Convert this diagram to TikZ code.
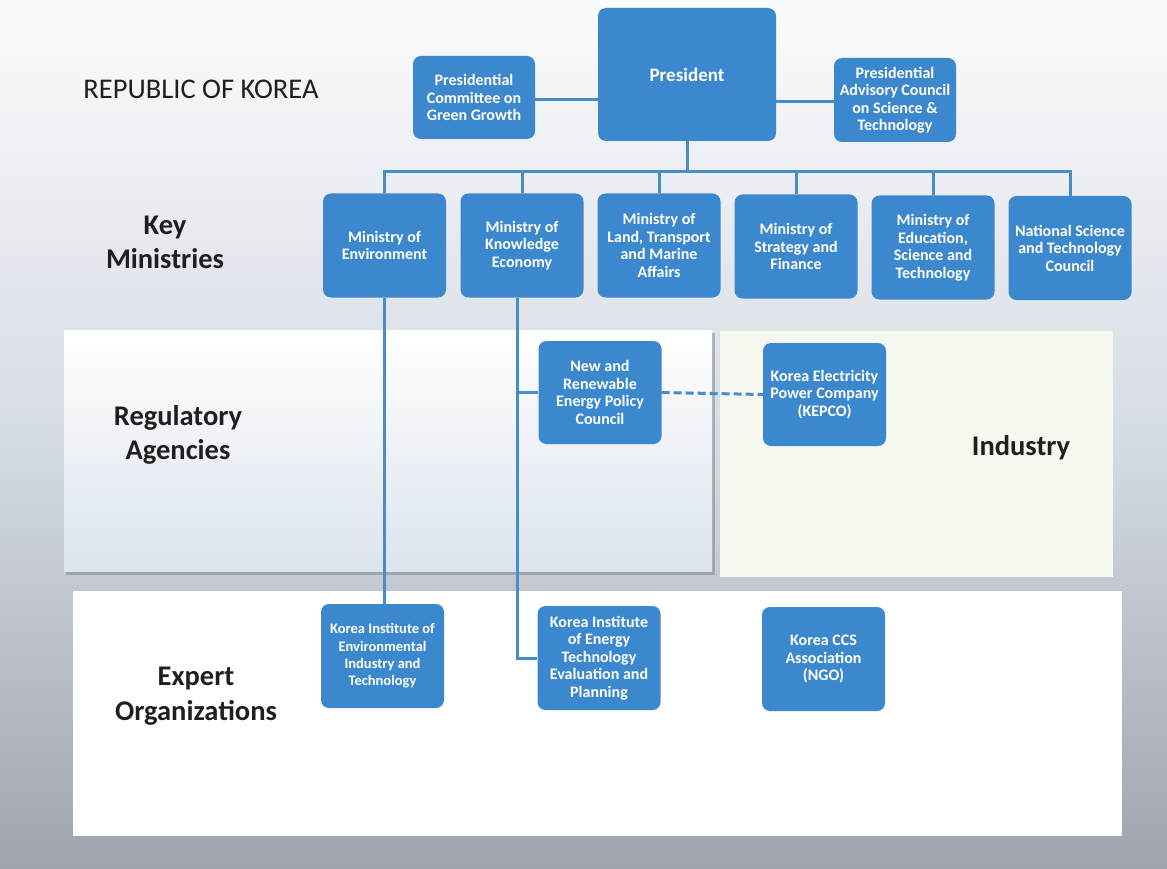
\documentclass[tikz,border=0pt]{standalone}
\usepackage{fontspec}
\setmainfont{Carlito}
\definecolor{boxblue}{RGB}{60,136,206}
\definecolor{lineblue}{RGB}{72,140,202}
\definecolor{bgtop}{RGB}{250,251,253}
\definecolor{bgmid}{RGB}{214,220,228}
\definecolor{bgbot}{RGB}{160,164,172}
\definecolor{regbot}{RGB}{220,228,238}
\definecolor{indfill}{RGB}{244,248,238}
\definecolor{shadowgray}{RGB}{130,134,140}
\begin{document}
\begin{tikzpicture}[x=1pt,y=-1pt,
  box/.style={fill=boxblue, rounded corners=8pt, text=white, align=center,
    inner sep=0pt, minimum width=123pt, minimum height=104pt,
    font=\fontsize{16}{17.5}\selectfont\bfseries},
  smallbox/.style={box, font=\fontsize{14.5}{17.3}\selectfont\bfseries},
  conn/.style={draw=lineblue, line width=3pt},
  dconn/.style={draw=lineblue, line width=3pt, dash pattern=on 8pt off 4pt},
  label/.style={align=center, inner sep=0pt, text=black!88,
    font=\fontsize{28.5}{34.5}\selectfont\bfseries}]
\useasboundingbox (0,0) rectangle (1167,869);
% background
\shade[top color=bgtop, bottom color=bgbot, middle color=bgmid] (0,0) rectangle (1167,869);
% panels
\fill[shadowgray, opacity=0.55] (66,333) rectangle (715,575);
\shade[top color=white, bottom color=regbot] (64,330) rectangle (712,571);
\fill[indfill] (720,331) rectangle (1113,577);
\fill[white] (73,591) rectangle (1122,836);
% labels
\node[label, font=\fontsize{28.5}{34.5}\selectfont, anchor=base] (rok) at (201,99) {REPUBLIC OF KOREA};
\node[label] (lkey) at (165,242.5) {Key\\Ministries};
\node[label] (lreg) at (178,435) {Regulatory\\Agencies};
\node[label, anchor=base] (lind) at (1021,455) {Industry};
\node[label] (lexp) at (196,696) {Expert\\Organizations};
% boxes
\node[box, minimum width=178pt, minimum height=133pt, font=\fontsize{19}{21}\selectfont\bfseries] (pres) at (687,74.5) {President};
\node[box, minimum width=122pt, minimum height=83pt] (pcgg) at (474,97.5) {Presidential\\Committee on\\Green Growth};
\node[box, minimum width=122pt, minimum height=84pt] (pacst) at (895,100) {Presidential\\Advisory Council\\on Science \&\\Technology};
\node[box] (m1) at (384.5,245.5) {Ministry of\\Environment};
\node[box] (m2) at (522,245.5) {Ministry of\\Knowledge\\Economy};
\node[box] (m3) at (659,245.5) {Ministry of\\Land, Transport\\and Marine\\Affairs};
\node[box] (m4) at (796,246.5) {Ministry of\\Strategy and\\Finance};
\node[box] (m5) at (933,247.5) {Ministry of\\Education,\\Science and\\Technology};
\node[box] (m6) at (1070,248) {National Science\\and Technology\\Council};
\node[box, minimum height=103pt] (nrepc) at (600,392.5) {New and\\Renewable\\Energy Policy\\Council};
\node[box, minimum height=103pt] (kepco) at (824.5,394.5) {Korea Electricity\\Power Company\\(KEPCO)};
\node[smallbox] (kieit) at (382.5,656) {Korea Institute of\\Environmental\\Industry and\\Technology};
\node[box] (kietep) at (599,658) {Korea Institute\\of Energy\\Technology\\Evaluation and\\Planning};
\node[box] (kccs) at (823.5,659) {Korea CCS\\Association\\(NGO)};
% connectors
\coordinate (bus) at (687,172);
\coordinate (spine) at (517,298);
\draw[conn] (pcgg.east |- 0,100) -- (pres.west |- 0,100);
\draw[conn] (pacst.west |- 0,102) -- (pres.east |- 0,102);
\draw[conn] (pres.south) -- (bus);
\draw[conn, line cap=rect] (m1.north |- bus) -- (m6.north |- bus);
\foreach \m in {m1,m2,m3,m4,m5,m6} {\draw[conn] (\m.north |- bus) -- (\m.north);}
\draw[conn] (m1.south) -- (m1.south |- kieit.north);
\draw[conn] (spine) |- (kietep.west);
\draw[conn] (spine |- nrepc.west) -- (nrepc.west);
\draw[dconn] (nrepc.east) -- (kepco.west);
\end{tikzpicture}
\end{document}
